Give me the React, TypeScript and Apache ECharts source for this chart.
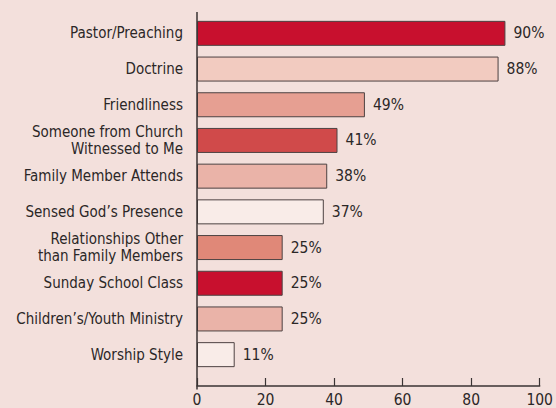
import React, { useEffect, useRef } from "react";
import * as echarts from "echarts";

const categories = [
  "Pastor/Preaching",
  "Doctrine",
  "Friendliness",
  "Someone from Church\nWitnessed to Me",
  "Family Member Attends",
  "Sensed God\u2019s Presence",
  "Relationships Other\nthan Family Members",
  "Sunday School Class",
  "Children\u2019s/Youth Ministry",
  "Worship Style",
];
const values = [90, 88, 49, 41, 38, 37, 25, 25, 25, 11];
const barColors = [
  "#c8102e",
  "#f2cbc0",
  "#e69f92",
  "#d04a4a",
  "#eab3a8",
  "#f9ece8",
  "#e08878",
  "#c8102e",
  "#eab3a8",
  "#f9ece8",
];
const xTicks = [0, 20, 40, 60, 80, 100];

const FONT = '"Liberation Sans Narrow", "DejaVu Sans Condensed", "Liberation Sans", sans-serif';
const TEXT = "#2b2727";
const AXIS = "#3a3333";

export default function App() {
  const ref = useRef<HTMLDivElement>(null);
  useEffect(() => {
    if (!ref.current) return;
    const chart = echarts.init(ref.current, undefined, { renderer: "svg" });
    chart.setOption({
      animation: false,
      backgroundColor: "#f3e0dc",
      grid: { left: 197, right: 14, top: 15.5, height: 360, containLabel: false },
      xAxis: {
        type: "value",
        min: xTicks[0],
        max: xTicks[xTicks.length - 1],
        interval: 20,
        offset: 13.5,
        axisLine: { show: true, lineStyle: { color: AXIS, width: 1.5 } },
        axisTick: { show: true, inside: true, length: 8, lineStyle: { color: AXIS, width: 1.2 } },
        axisLabel: { color: TEXT, fontFamily: FONT, fontSize: 15.5, margin: 6 },
        splitLine: { show: false },
      },
      yAxis: {
        type: "category",
        data: categories,
        inverse: true,
        axisLine: { show: false },
        axisTick: { show: false },
        axisLabel: {
          color: TEXT,
          fontFamily: FONT,
          fontSize: 15,
          margin: 14,
          lineHeight: 17,
          align: "right",
        },
      },
      graphic: [
        {
          type: "line",
          shape: { x1: 197, y1: 12, x2: 197, y2: 389.5 },
          style: { stroke: AXIS, lineWidth: 1.5 },
          z: 10,
        },
      ],
      series: [
        {
          type: "bar",
          barWidth: 25,
          data: values.map((v, i) => ({
            value: v,
            itemStyle: { color: barColors[i] },
          })),
          itemStyle: { borderColor: "#4d4242", borderWidth: 1 },
          label: {
            show: true,
            position: "right",
            distance: 8,
            formatter: "{c}%",
            color: TEXT,
            fontFamily: FONT,
            fontSize: 15.5,
          },
        },
      ],
    });
    return () => chart.dispose();
  }, []);
  return (
    <div
      ref={ref}
      style={{ position: "fixed", left: 0, top: 0, width: 556, height: 408 }}
    />
  );
}
